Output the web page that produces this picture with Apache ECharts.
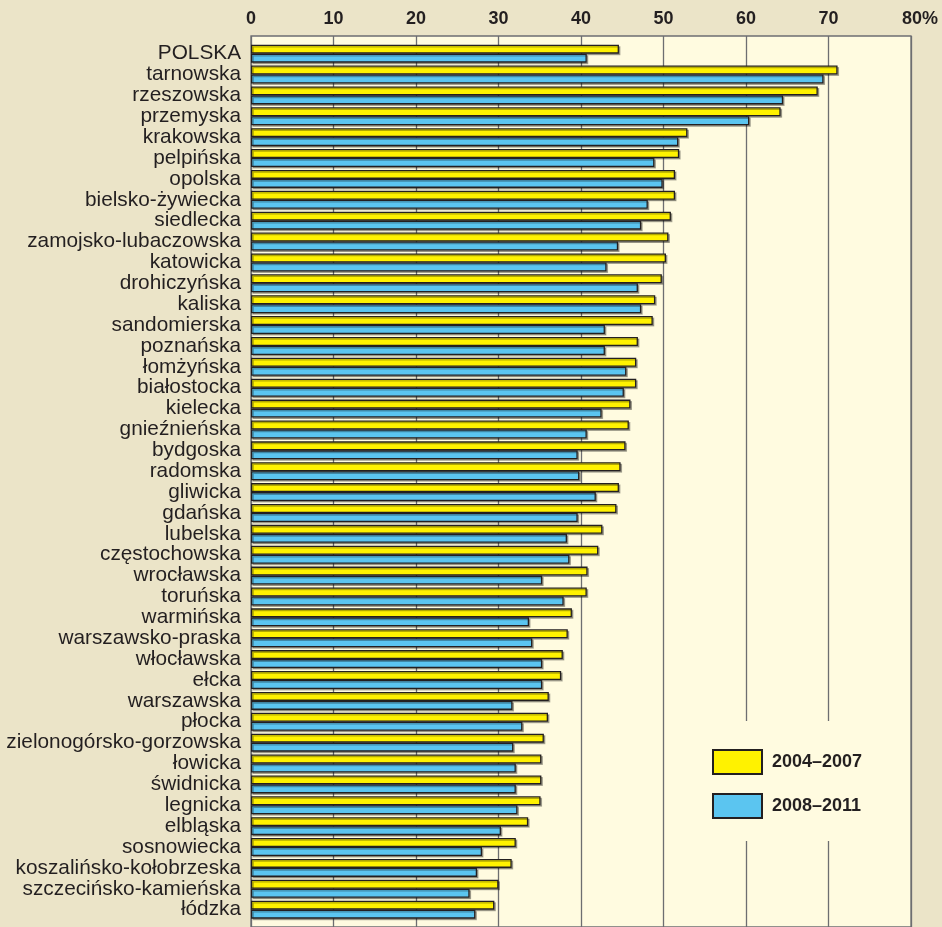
<!DOCTYPE html>
<html>
<head>
<meta charset="utf-8">
<script src="https://cdn.jsdelivr.net/npm/echarts@6/dist/echarts.min.js"></script>
<style>
  html, body { margin: 0; padding: 0; background: #ebe4c8; }
  #chart { width: 942px; height: 927px; }
</style>
</head>
<body>
<div id="chart"></div>
<script>
// Dioceses, ordered as listed (POLSKA = whole country)
const categories = [
  'POLSKA', 'tarnowska', 'rzeszowska', 'przemyska', 'krakowska', 'pelpińska',
  'opolska', 'bielsko-żywiecka', 'siedlecka', 'zamojsko-lubaczowska', 'katowicka',
  'drohiczyńska', 'kaliska', 'sandomierska', 'poznańska', 'łomżyńska',
  'białostocka', 'kielecka', 'gnieźnieńska', 'bydgoska', 'radomska', 'gliwicka',
  'gdańska', 'lubelska', 'częstochowska', 'wrocławska', 'toruńska', 'warmińska',
  'warszawsko-praska', 'włocławska', 'ełcka', 'warszawska', 'płocka',
  'zielonogórsko-gorzowska', 'łowicka', 'świdnicka', 'legnicka', 'elbląska',
  'sosnowiecka', 'koszalińsko-kołobrzeska', 'szczecińsko-kamieńska', 'łódzka'
];

// Share in percent, period 2004–2007
const values2004 = [
  44.6, 71.1, 68.7, 64.2, 52.9, 51.9, 51.4, 51.4, 50.9, 50.6, 50.3,
  49.8, 49.0, 48.7, 46.9, 46.7, 46.7, 46.0, 45.8, 45.4, 44.8, 44.6,
  44.3, 42.6, 42.1, 40.8, 40.7, 38.9, 38.4, 37.8, 37.6, 36.1, 36.0,
  35.5, 35.2, 35.2, 35.1, 33.6, 32.1, 31.6, 30.0, 29.5
];

// Share in percent, period 2008–2011
const values2008 = [
  40.7, 69.4, 64.5, 60.4, 51.8, 48.9, 49.9, 48.1, 47.3, 44.5, 43.1,
  46.9, 47.3, 42.9, 42.9, 45.5, 45.2, 42.5, 40.7, 39.6, 39.8, 41.8,
  39.6, 38.3, 38.6, 35.3, 37.9, 33.7, 34.1, 35.3, 35.3, 31.7, 32.9,
  31.8, 32.1, 32.1, 32.3, 30.3, 28.0, 27.4, 26.5, 27.2
];

const seriesNames = ['2004–2007', '2008–2011'];

// Value axis ticks: 0, 10, ... 80 (last one carries the % sign)
const axisMax = 80;
const axisStep = 10;

const textColor = '#231f20';
const gridColor = '#6d6e71';

const chart = echarts.init(document.getElementById('chart'), null, { renderer: 'canvas' });

const barOutline = {
  borderColor: textColor,
  borderWidth: 1.3,
  shadowColor: 'rgba(0,0,0,0.3)',
  shadowOffsetX: 1.5,
  shadowOffsetY: 1.5,
  shadowBlur: 0
};

chart.setOption({
  backgroundColor: '#ebe4c8',
  animation: false,
  grid: [
    // plot frame: background, grid lines and top scale
    {
      show: true, left: 251, right: 31, top: 36, bottom: -10,
      backgroundColor: '#fffbe0', borderColor: gridColor, borderWidth: 1.3
    },
    // bars
    { left: 251, right: 31, top: 43.2, bottom: 6.9 }
  ],
  xAxis: [
    {
      gridIndex: 0, type: 'value', position: 'top',
      min: 0, max: axisMax, interval: axisStep,
      axisLine: { show: false }, axisTick: { show: false },
      splitLine: { show: true, lineStyle: { color: gridColor, width: 1.3 } },
      axisLabel: {
        show: true, margin: 8, showMinLabel: true, showMaxLabel: true,
        color: textColor, fontFamily: 'Liberation Sans', fontWeight: 'bold', fontSize: 18,
        formatter: v => v === axisMax ? '{p|' + v + '%}' : String(v),
        rich: {
          p: {
            color: textColor, fontFamily: 'Liberation Sans', fontWeight: 'bold',
            fontSize: 18, padding: [0, 0, 0, 18]
          }
        }
      }
    },
    {
      gridIndex: 1, type: 'value', min: 0, max: axisMax, interval: axisStep,
      show: false, splitLine: { show: false }
    }
  ],
  yAxis: [
    { gridIndex: 0, type: 'value', min: 0, max: 1, show: false, splitLine: { show: false } },
    {
      gridIndex: 1, type: 'category', data: categories, inverse: true,
      axisLine: { show: false }, axisTick: { show: false },
      splitLine: { show: false },
      axisLabel: {
        margin: 10, color: textColor, fontFamily: 'Liberation Sans', fontSize: 20.8,
        interval: 0
      }
    }
  ],
  legend: {
    orient: 'vertical', left: 690, top: 721,
    padding: [28, 20, 22, 22],
    backgroundColor: '#fffbe0',
    itemWidth: 49, itemHeight: 24, itemGap: 18,
    icon: 'rect',
    data: seriesNames,
    textStyle: {
      color: textColor, fontFamily: 'Liberation Sans', fontWeight: 'bold', fontSize: 18,
      padding: [0, 0, 0, 5]
    }
  },
  series: [
    {
      name: seriesNames[0], type: 'bar', xAxisIndex: 1, yAxisIndex: 1,
      data: values2004, barWidth: 9, barGap: '0%',
      itemStyle: Object.assign({ color: '#fff200' }, barOutline)
    },
    {
      name: seriesNames[1], type: 'bar', xAxisIndex: 1, yAxisIndex: 1,
      data: values2008, barWidth: 9, barGap: '0%',
      itemStyle: Object.assign({ color: '#5bc5f0' }, barOutline)
    }
  ]
});
</script>
</body>
</html>
